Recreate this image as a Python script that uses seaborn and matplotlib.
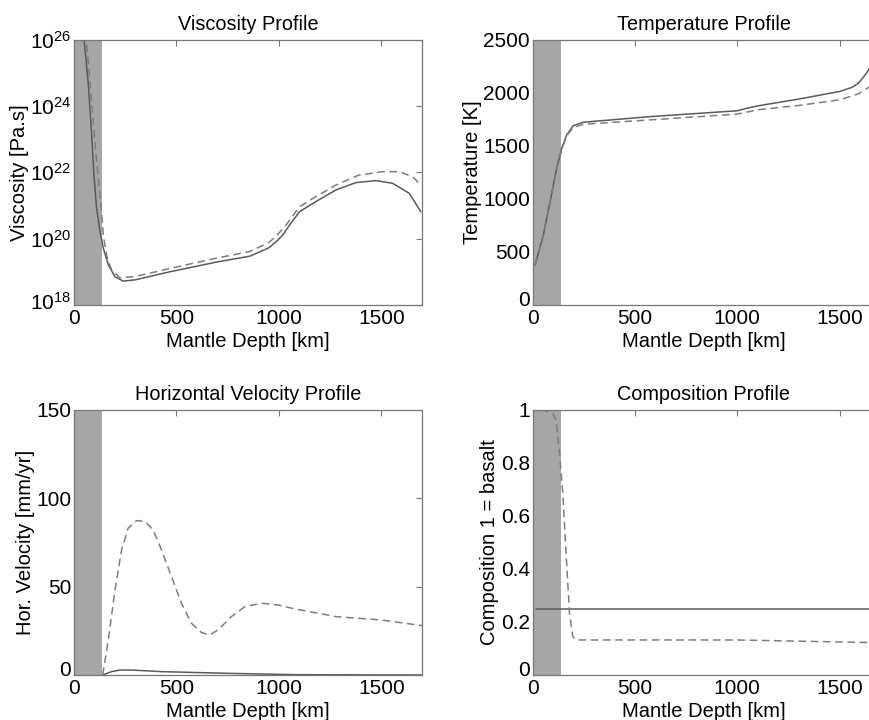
import numpy as np
import pandas as pd
import seaborn as sns
import matplotlib
matplotlib.use("Agg")
from matplotlib import pyplot as plt
from matplotlib.ticker import NullLocator, LogFormatterSciNotation
from matplotlib.transforms import ScaledTranslation

# Viscosity profile (log10 Pa.s)
visc_solid_depth = [49, 70, 86, 97, 110, 127, 143, 167, 200, 240, 300, 467, 700, 857, 950, 987, 1019, 1052,
                    1100, 1181, 1279, 1376, 1474, 1555, 1636, 1693]
visc_solid_log = [26.0, 24.64, 23.13, 21.92, 20.92, 20.21, 19.71, 19.21, 18.85, 18.72, 18.76, 19.0, 19.3, 19.47,
                  19.72, 19.91, 20.11, 20.41, 20.81, 21.12, 21.47, 21.69, 21.75, 21.67, 21.37, 20.81]
visc_dash_depth = [62, 86, 110, 130, 143, 159, 183, 224, 300, 467, 700, 857, 950, 987, 1035, 1100, 1181, 1279,
                   1392, 1506, 1587, 1652, 1693]
visc_dash_log = [25.85, 24.14, 22.33, 21.12, 20.1, 19.5, 19.06, 18.82, 18.86, 19.1, 19.42, 19.61, 19.88, 20.08,
                 20.41, 20.96, 21.27, 21.62, 21.92, 22.02, 22.02, 21.87, 21.62]
visc_ticks = [1e18, 1e20, 1e22, 1e24, 1e26]

# Temperature profile [K]
temp_solid_depth = [12, 52, 85, 117, 142, 166, 198, 247, 573, 1000, 1050, 1103, 1300, 1503, 1560, 1593, 1626, 1650]
temp_solid = [377, 660, 974, 1288, 1476, 1602, 1690, 1722, 1775, 1830, 1855, 1877, 1940, 2013, 2050, 2091, 2170, 2240]
temp_dash_depth = [12, 52, 85, 117, 142, 166, 198, 247, 573, 1000, 1103, 1300, 1503, 1593, 1650]
temp_dash = [377, 655, 965, 1275, 1465, 1595, 1671, 1703, 1744, 1799, 1840, 1880, 1934, 1990, 2060]

# Horizontal velocity profile [mm/yr]
vel_dash_depth = [140, 167, 200, 232, 264, 305, 346, 386, 427, 476, 524, 573, 622, 662, 703, 768, 833, 914,
                  995, 1076, 1280, 1500, 1700]
vel_dash = [0, 19.8, 48.1, 70.7, 83.0, 87.3, 86.8, 82.1, 70.7, 55.6, 40.6, 29.3, 24.0, 22.6, 25.5, 33.0, 38.6,
            40.6, 39.6, 37.4, 33.0, 31.1, 27.9]
vel_solid_depth = [140, 183, 224, 281, 427, 768, 1076, 1300, 1700]
vel_solid = [0, 1.9, 2.8, 2.8, 1.9, 0.9, 0.2, 0.1, 0.0]

# Composition profile (1 = basalt)
comp_solid_depth = [15, 1673]
comp_solid = [0.25, 0.25]
comp_dash_depth = [40, 98, 114, 131, 147, 163, 180, 196, 212, 1000, 1673]
comp_dash = [1.0, 0.987, 0.962, 0.836, 0.686, 0.459, 0.232, 0.145, 0.132, 0.132, 0.122]

lith_depth = 138

sns.set_style("white")
plt.rcParams['font.family'] = ['Liberation Sans', 'DejaVu Sans']
plt.rcParams['mathtext.default'] = 'regular'
plt.rcParams['text.color'] = 'black'
plt.rcParams['axes.labelcolor'] = 'black'
plt.rcParams['xtick.color'] = 'black'
plt.rcParams['ytick.color'] = 'black'

fig = plt.figure(figsize=(8.7, 7.2), dpi=100)
left_l, width_l = 0.0851, 0.4003
left_r, width_r = 0.6123, 0.3934
bot_t, bot_b, height = 0.5764, 0.0625, 0.3685

ax_v = fig.add_axes([left_l, bot_t, width_l, height])
ax_t = fig.add_axes([left_r, bot_t, width_r, height])
ax_u = fig.add_axes([left_l, bot_b, width_l, height])
ax_c = fig.add_axes([left_r, bot_b, width_r, height])

solid_col = '#5a5a5a'
dash_col = '#7d7d7d'


def draw(ax, xs, ys, xd, yd):
    ax.axvspan(0, lith_depth, color='#a6a6a6', lw=0, zorder=0)
    sns.lineplot(x=xs, y=ys, ax=ax, color=solid_col, lw=1.1, sort=False)
    sns.lineplot(x=xd, y=yd, ax=ax, color=dash_col, lw=1.1, sort=False, linestyle=(0, (5, 3)))


draw(ax_v, visc_solid_depth, list(10.0 ** np.array(visc_solid_log)),
     visc_dash_depth, list(10.0 ** np.array(visc_dash_log)))
draw(ax_t, temp_solid_depth, temp_solid, temp_dash_depth, temp_dash)
draw(ax_u, vel_solid_depth, vel_solid, vel_dash_depth, vel_dash)
draw(ax_c, comp_solid_depth, comp_solid, comp_dash_depth, comp_dash)

ax_v.set_yscale('log')
ax_v.set_ylim(1e18, 1e26)
ax_v.set_yticks(visc_ticks)
ax_v.yaxis.set_major_formatter(LogFormatterSciNotation())
ax_v.yaxis.set_minor_locator(NullLocator())
ax_v.set_xlim(0, 1700)
ax_u.set_xlim(0, 1700)
ax_t.set_xlim(0, 1673)
ax_c.set_xlim(0, 1673)
ax_t.set_ylim(0, 2500)
ax_u.set_ylim(0, 150)
ax_c.set_ylim(0, 1)
ax_c.set_yticks([0, 0.2, 0.4, 0.6, 0.8, 1])
ax_c.set_yticklabels(['0', '0.2', '0.4', '0.6', '0.8', '1'])
ax_u.set_yticks([0, 50, 100, 150])
ax_t.set_yticks([0, 500, 1000, 1500, 2000, 2500])

titles = ['Viscosity Profile', 'Temperature Profile', 'Horizontal Velocity Profile', 'Composition Profile']
ylabels = ['Viscosity [Pa.s]', 'Temperature [K]', 'Hor. Velocity [mm/yr]', 'Composition 1 = basalt']
for ax, title, yl in zip([ax_v, ax_t, ax_u, ax_c], titles, ylabels):
    ax.set_title(title, fontsize=14.3, pad=7)
    ax.set_ylabel(yl, fontsize=14.5, labelpad=1)
    ax.set_xlabel('Mantle Depth [km]', fontsize=14.5, labelpad=2.5)
    ax.set_xticks([0, 500, 1000, 1500])
    ax.tick_params(direction='in', top=True, right=True, length=4, width=0.8,
                   color='#777777', labelsize=15, pad=2)
    ax.tick_params(axis='x', pad=3.2)
    for sp in ax.spines.values():
        sp.set_color('#777777')
        sp.set_linewidth(0.9)

# raise the lowest y label a little, as in the original figure
for ax, shift in [(ax_v, 3.0), (ax_t, 4.5), (ax_u, 4.5), (ax_c, 4.5)]:
    lbl = ax.yaxis.get_major_ticks()[0].label1
    lbl.set_transform(lbl.get_transform() + ScaledTranslation(0, shift / 72, fig.dpi_scale_trans))

fig.savefig('out.png', dpi=100)
